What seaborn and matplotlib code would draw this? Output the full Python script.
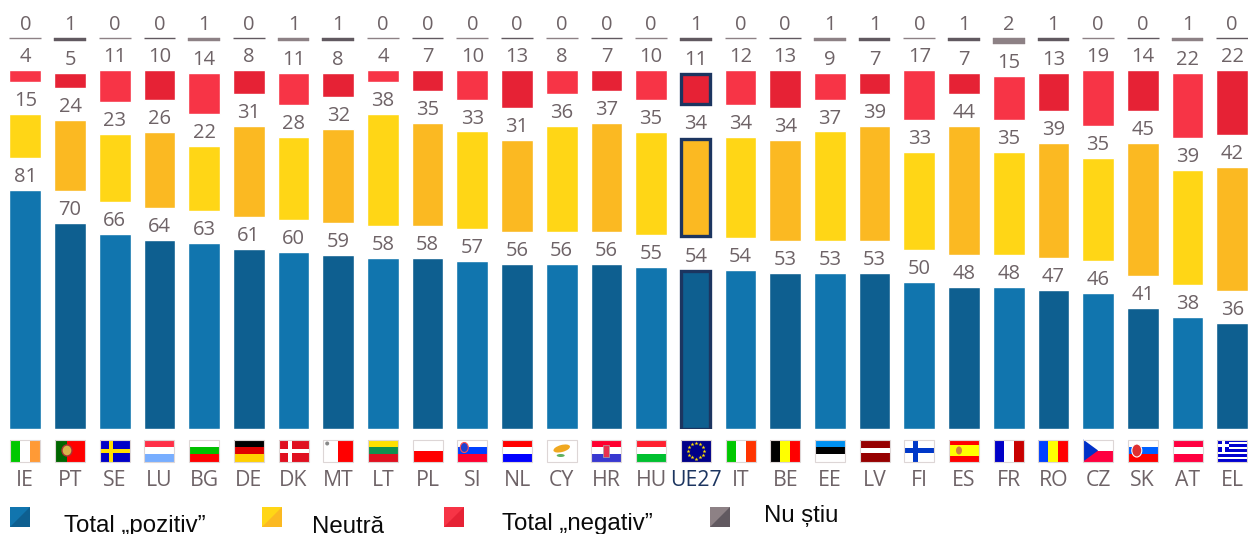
import numpy as np
import matplotlib
matplotlib.use('Agg')
import matplotlib.pyplot as plt
from matplotlib.patches import Rectangle, Polygon, Ellipse
import seaborn as sns

countries = ['IE', 'PT', 'SE', 'LU', 'BG', 'DE', 'DK', 'MT', 'LT', 'PL', 'SI', 'NL', 'CY', 'HR', 'HU', 'UE27',
             'IT', 'BE', 'EE', 'LV', 'FI', 'ES', 'FR', 'RO', 'CZ', 'SK', 'AT', 'EL']
pozitiv = [81, 70, 66, 64, 63, 61, 60, 59, 58, 58, 57, 56, 56, 56, 55, 54, 54, 53, 53, 53, 50, 48, 48, 47, 46, 41, 38, 36]
neutra = [15, 24, 23, 26, 22, 31, 28, 32, 38, 35, 33, 31, 36, 37, 35, 34, 34, 34, 37, 39, 33, 44, 35, 39, 35, 45, 39, 42]
negativ = [4, 5, 11, 10, 14, 8, 11, 8, 4, 7, 10, 13, 8, 7, 10, 11, 12, 13, 9, 7, 17, 7, 15, 13, 19, 14, 22, 22]
nu_stiu = [0, 1, 0, 0, 1, 0, 1, 1, 0, 0, 0, 0, 0, 0, 0, 1, 0, 0, 1, 1, 0, 1, 2, 1, 0, 0, 1, 0]

series = [pozitiv, neutra, negativ, nu_stiu]
# (light, dark) alternating by country
colors = [('#1175ae', '#0e5f90'), ('#ffd616', '#fbb922'), ('#f73446', '#e62235'), ('#8d8185', '#615960')]
legend_names = ['Total „pozitiv”', 'Neutră', 'Total „negativ”', 'Nu știu']
legend_x = [10, 262, 444, 710]
legend_tx = [64, 312, 502, 764]
legend_ty = [532, 533, 530, 522]

W, H = 1248, 534
PX_BASE = 429
PX_UNIT = 2.95
X0, STEP = 25.3, 44.7
GAP = 32 / PX_UNIT
TXT = '#6e6367'
NAVY = '#1c3560'

sns.set_style('white')
plt.rcParams['font.family'] = ['Open Sans', 'DejaVu Sans']

fig = plt.figure(figsize=(W / 100, H / 100), dpi=100)
ax = fig.add_axes([0, 1 - PX_BASE / H, 1, PX_BASE / H])

bottom = np.zeros(len(countries))
eu = countries.index('UE27')
for s, vals in enumerate(series):
    start = len(ax.patches)
    sns.barplot(x=countries, y=vals, bottom=bottom, order=countries, color=colors[s][0],
                width=0.71, saturation=1, ax=ax)
    bars = ax.patches[start:]
    for i, p in enumerate(bars):
        c = colors[s][i % 2]
        p.set_facecolor(c)
        if s == 3:
            p.set_edgecolor(c)
            p.set_linewidth(1 if vals[i] == 0 else 0.3)
        elif i == eu:
            # thick navy frame kept inside the bar
            dx = 1.5 / STEP
            dy = 1.5 / PX_UNIT
            p.set_x(p.get_x() + dx)
            p.set_width(p.get_width() - 2 * dx)
            if s > 0:
                p.set_y(p.get_y() + dy)
                p.set_height(p.get_height() - 2 * dy)
            else:
                p.set_height(p.get_height() - dy)
            p.set_edgecolor(NAVY)
            p.set_linewidth(2.4)
        ax.text(i, bottom[i] + vals[i] + 1.0, str(vals[i]), ha='center', va='bottom', color=TXT, fontsize=14.5)
    bottom = bottom + np.array(vals) + GAP

ax.set_xlim(-X0 / STEP, (W - X0) / STEP)
ax.set_ylim(0, PX_BASE / PX_UNIT)
ax.set_yticks([])
ax.set_xlabel('')
ax.set_ylabel('')
ax.tick_params(axis='x', length=0, pad=29.5, labelsize=15.3, labelcolor=TXT)
ax.get_xticklabels()[eu].set_color(NAVY)
sns.despine(ax=ax, left=True, bottom=True)
ax.patch.set_alpha(0)

# overlay in pixel coordinates for flags and legend
ov = fig.add_axes([0, 0, 1, 1])
ov.set_xlim(0, W)
ov.set_ylim(H, 0)
ov.axis('off')
ov.patch.set_alpha(0)

FW, FH, FY = 30, 22, 439.5


def rect(x, y, w, h, c, z=3):
    ov.add_patch(Rectangle((x, y), w, h, fc=c, ec='none', zorder=z))


def flag(code, stripes=None, vertical=False, ratios=None):
    x = X0 + STEP * countries.index(code) - FW / 2
    if stripes:
        ratios = ratios or [1] * len(stripes)
        tot = sum(ratios)
        pos = 0
        for c, r in zip(stripes, ratios):
            if vertical:
                rect(x + pos / tot * FW, FY, r / tot * FW, FH, c)
            else:
                rect(x, FY + pos / tot * FH, FW, r / tot * FH, c)
            pos += r
    ov.add_patch(Rectangle((x, FY), FW, FH, fc='none', ec='#ddd6d6', lw=0.8, zorder=6))
    return x


def cross(x, bg, fg, cx, t):
    rect(x, FY, FW, FH, bg)
    rect(x + cx - t / 2, FY, t, FH, fg, 4)
    rect(x, FY + FH / 2 - t / 2, FW, t, fg, 4)


flag('IE', ['#00c800', '#ffffff', '#ff9a36'], True)
x = flag('PT', ['#006600', '#ff0000'], True, [2, 3])
ov.add_patch(Ellipse((x + 12, FY + FH / 2), 10, 11, fc='#d9b44a', ec='#a33', lw=1, zorder=5))
cross(flag('SE'), '#0000c8', '#ffe000', 11, 4)
flag('LU', ['#ff3048', '#ffffff', '#78aeff'])
flag('BG', ['#ffffff', '#00c000', '#ff0000'])
flag('DE', ['#000000', '#e00000', '#ffd000'])
cross(flag('DK'), '#e01020', '#ffffff', 11, 4)
x = flag('MT', ['#ffffff', '#ff0000'], True)
ov.add_patch(Ellipse((x + 4, FY + 4), 4, 4, fc='#888888', ec='none', zorder=5))
flag('LT', ['#ffe000', '#109050', '#e01020'])
flag('PL', ['#ffffff', '#ff0000'])
x = flag('SI', ['#ffffff', '#0040ff', '#ff0030'])
ov.add_patch(Ellipse((x + 7, FY + 8), 8, 10, fc='#2040d0', ec='#ff5050', lw=0.8, zorder=5))
flag('NL', ['#ff0000', '#ffffff', '#0000ff'])
x = flag('CY', ['#ffffff'])
ov.add_patch(Ellipse((x + 15, FY + 9), 17, 7, angle=-15, fc='#f0a820', ec='none', zorder=5))
ov.add_patch(Ellipse((x + 14, FY + 16), 8, 3, fc='#60b060', ec='none', zorder=5))
x = flag('HR', ['#ff0030', '#ffffff', '#3838d0'])
ov.add_patch(Rectangle((x + 12, FY + 5), 6, 12, fc='#e83050', ec='#aaaaaa', lw=0.5, zorder=5))
flag('HU', ['#ff2030', '#ffffff', '#00c030'])
x = flag('UE27', ['#000088'])
ang = np.arange(12) * np.pi / 6
ov.plot(x + FW / 2 + 8 * np.cos(ang), FY + FH / 2 + 8 * np.sin(ang), ls='none', marker='*', ms=3, color='#ffe000', mew=0, zorder=5)
flag('IT', ['#00c800', '#ffffff', '#ff3300'], True)
flag('BE', ['#000000', '#ffff00', '#ff0000'], True)
flag('EE', ['#0090f0', '#000000', '#ffffff'])
flag('LV', ['#960000', '#ffffff', '#960000'], False, [2, 1, 2])
cross(flag('FI'), '#ffffff', '#0038c8', 11, 5)
x = flag('ES', ['#ff0000', '#ffff00', '#ff0000'], False, [1, 2, 1])
ov.add_patch(Ellipse((x + 10, FY + FH / 2), 6, 8, fc='#d08040', ec='none', zorder=5))
flag('FR', ['#0000c8', '#ffffff', '#c80000'], True)
flag('RO', ['#0040ff', '#ffff00', '#ff0000'], True)
x = flag('CZ', ['#ffffff', '#ff0040'])
ov.add_patch(Polygon([(x, FY), (x + 15, FY + FH / 2), (x, FY + FH)], fc='#0030c8', ec='none', zorder=5))
x = flag('SK', ['#ffffff', '#0060ff', '#ff0000'])
ov.add_patch(Ellipse((x + 9, FY + 11), 10, 13, fc='#e03030', ec='#ffffff', lw=0.8, zorder=5))
flag('AT', ['#ff0040', '#ffffff', '#ff0040'])
x = flag('EL', ['#0000d0', '#ffffff'] * 4 + ['#0000d0'])
rect(x, FY, 12, 12, '#0000d0', 4)
rect(x + 4.5, FY, 3, 12, '#ffffff', 5)
rect(x, FY + 4.5, 12, 3, '#ffffff', 5)

# legend
for s, name in enumerate(legend_names):
    lx = legend_x[s]
    ly, sz = 507, 20
    rect(lx, ly, sz, sz, colors[s][0])
    ov.add_patch(Polygon([(lx + sz, ly), (lx + sz, ly + sz), (lx, ly + sz)], fc=colors[s][1], ec='none', zorder=4))
    ov.text(legend_tx[s], legend_ty[s], name, family=['Liberation Sans', 'DejaVu Sans'], fontsize=17.3,
            color='#0a0a0a', ha='left', va='baseline', clip_on=False)

fig.savefig('out.png', dpi=100, facecolor='white')
